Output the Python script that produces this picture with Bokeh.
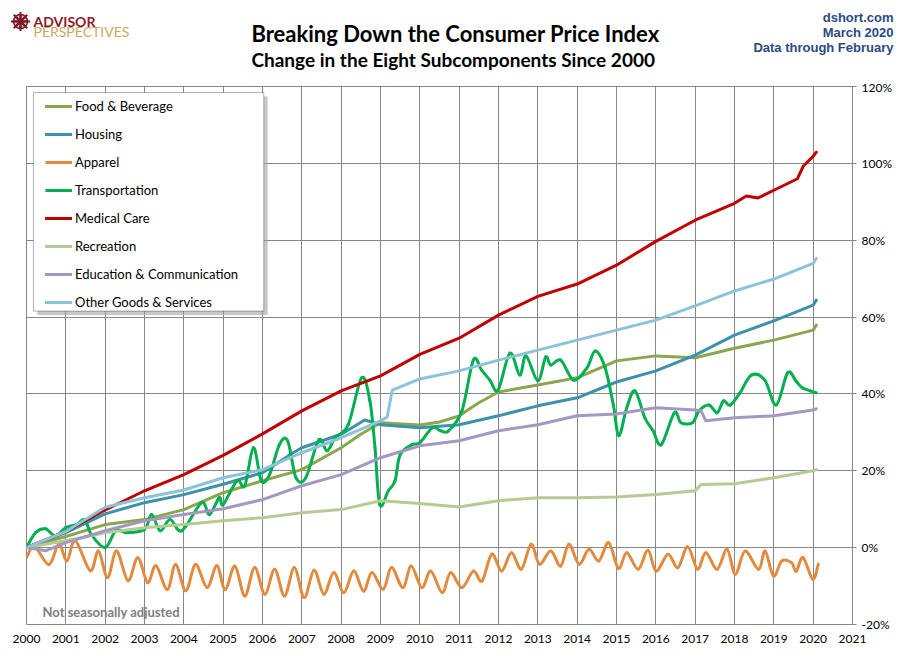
from bokeh.plotting import figure
from bokeh.models import (FixedTicker, PrintfTickFormatter, Legend, LegendItem, Label,
                          BoxAnnotation, Range1d, ColumnDataSource)
from bokeh.embed import file_html
from bokeh.resources import INLINE

# ---------------- data (percent change since Jan 2000) ----------------
tick_years = list(range(2000, 2022))
tick_pcts = [-20, 0, 20, 40, 60, 80, 100, 120]

food_x = [2000, 2001, 2002, 2003, 2004, 2005, 2006, 2007, 2008, 2008.5, 2009, 2010, 2010.5,
          2011, 2011.5, 2012, 2013, 2014, 2015, 2016, 2017, 2018, 2019, 2020, 2020.08]
food_y = [0, 2.9, 6.0, 7.3, 9.9, 14.3, 17.4, 20.3, 26.0, 29.5, 32.5, 31.9, 32.7,
          34.3, 37.7, 40.5, 42.3, 44.2, 48.6, 49.9, 49.4, 51.9, 54.0, 56.6, 57.9]

housing_x = [2000, 2001, 2002, 2003, 2004, 2005, 2006, 2006.75, 2007, 2008, 2008.6, 2009,
             2010, 2011, 2012, 2013, 2014, 2015, 2016, 2017, 2018, 2019, 2020, 2020.08]
housing_y = [0, 3.9, 8.8, 11.7, 13.8, 16.5, 19.5, 24.5, 26.0, 29.5, 33.2, 32.0,
             31.2, 32.0, 34.3, 36.9, 39.0, 43.1, 46.0, 50.1, 55.3, 59.0, 63.1, 64.4]

apparel_x = [2000.0, 2000.2, 2000.57, 2000.82, 2001.03, 2001.24, 2001.62, 2001.83,
             2002.06, 2002.29, 2002.58, 2002.83, 2003.08, 2003.29, 2003.58, 2003.79,
             2004.05, 2004.3, 2004.59, 2004.84, 2005.05, 2005.3, 2005.55, 2005.8,
             2006.06, 2006.31, 2006.56, 2006.81, 2007.06, 2007.31, 2007.56, 2007.81,
             2008.07, 2008.32, 2008.57, 2008.78, 2009.07, 2009.28, 2009.57, 2009.78,
             2010.05, 2010.28, 2010.57, 2010.78, 2011.07, 2011.36, 2011.58, 2011.83,
             2012.08, 2012.33, 2012.58, 2012.83, 2013.04, 2013.33, 2013.58, 2013.79,
             2014.05, 2014.3, 2014.55, 2014.8, 2015.05, 2015.26, 2015.55, 2015.8,
             2016.01, 2016.31, 2016.56, 2016.81, 2017.06, 2017.27, 2017.56, 2017.81,
             2018.02, 2018.27, 2018.61, 2018.78, 2018.99, 2019.2, 2019.45, 2019.57,
             2019.74, 2019.99, 2020.13]
apparel_y = [-2.6, 0.3, -4.4, 0.9, -3.4, 1.8, -6.0, -0.9,
             -7.8, -0.9, -8.6, -2.6, -9.1, -4.7, -10.9, -4.4,
             -11.2, -4.4, -10.4, -4.7, -10.9, -4.8, -12.6, -5.2,
             -12.1, -5.6, -12.6, -5.2, -13.0, -5.9, -12.1, -6.5,
             -11.7, -6.1, -11.3, -6.5, -10.8, -5.2, -10.4, -4.8,
             -10.4, -6.1, -11.7, -6.5, -10.4, -6.1, -8.7, -1.7,
             -6.1, -1.3, -5.6, 0.9, -4.3, -0.9, -4.8, 0.9,
             -4.3, -0.4, -3.5, 1.3, -5.4, -1.3, -5.6, -0.7,
             -6.1, -1.7, -5.2, 0.2, -5.6, -1.3, -5.6, -0.4,
             -6.9, -0.9, -5.6, -0.9, -7.4, -3.5, -3.9, -6.1,
             -2.6, -8.2, -4.3]

trans_x = [2000.0, 2000.23, 2000.48, 2000.73, 2001.0, 2001.27, 2001.48, 2001.65, 2002.0, 2002.27,
           2002.55, 2003.0, 2003.18, 2003.4, 2003.65, 2003.95, 2004.45, 2004.65, 2004.9, 2005.0,
           2005.35, 2005.55, 2005.77, 2005.97, 2006.18, 2006.43, 2006.64, 2006.85, 2007.1, 2007.43,
           2007.64, 2007.85, 2008.18, 2008.52, 2008.73, 2008.86, 2008.98, 2009.2, 2009.37, 2009.5,
           2009.8, 2010.0, 2010.32, 2010.53, 2010.73, 2011.07, 2011.36, 2011.57, 2011.78, 2011.99,
           2012.29, 2012.54, 2012.7, 2013.0, 2013.2, 2013.33, 2013.58, 2013.91, 2014.25, 2014.46,
           2014.71, 2014.92, 2015.06, 2015.26, 2015.47, 2015.72, 2015.93, 2016.14, 2016.47, 2016.64,
           2016.93, 2017.1, 2017.35, 2017.56, 2017.72, 2017.89, 2018.14, 2018.43, 2018.77, 2019.06,
           2019.35, 2019.56, 2019.72, 2019.93, 2020.08]
trans_y = [0.0, 3.9, 4.9, 3.1, 5.2, 6.0, 7.3, 3.4, 0.0, 4.4,
           3.9, 4.7, 8.6, 4.4, 7.3, 4.4, 11.7, 8.6, 13.0, 11.2,
           17.4, 16.1, 26.0, 17.4, 19.0, 26.8, 27.8, 18.2, 18.2, 28.0,
           25.2, 28.6, 32.0, 44.2, 38.2, 26.0, 11.2, 14.8, 17.4, 24.2,
           26.8, 27.3, 31.2, 30.4, 30.4, 35.6, 48.8, 46.2, 43.6, 41.0,
           50.6, 44.9, 49.9, 43.4, 49.6, 47.5, 48.8, 43.6, 46.8, 51.2,
           46.8, 37.1, 29.1, 36.4, 40.8, 33.8, 30.4, 26.8, 35.1, 32.5,
           32.5, 35.6, 37.1, 35.1, 38.2, 37.1, 40.3, 44.9, 43.6, 37.1,
           45.5, 43.4, 41.6, 40.8, 40.3]

med_x = [2000, 2001, 2002, 2003, 2004, 2005, 2006, 2007, 2008, 2009, 2010, 2011, 2012, 2013,
         2014, 2015, 2016, 2017, 2018, 2018.3, 2018.6, 2019, 2019.6, 2019.75, 2020, 2020.08]
med_y = [0, 4.2, 9.8, 14.8, 19.0, 24.0, 29.6, 35.6, 40.8, 44.7, 50.3, 54.5, 60.5, 65.4,
         68.6, 73.5, 79.7, 85.2, 89.6, 91.5, 91.0, 93.0, 96.0, 99.3, 101.8, 102.9]

rec_x = [2000, 2001, 2002, 2003, 2004, 2005, 2006, 2007, 2008, 2009, 2010, 2011, 2012, 2013,
         2014, 2015, 2016, 2017, 2017.15, 2018, 2019, 2020, 2020.08]
rec_y = [0, 1.8, 3.9, 5.2, 6.0, 7.0, 7.8, 9.1, 9.9, 12.2, 11.5, 10.6, 12.2, 13.0,
         13.0, 13.2, 13.8, 14.8, 16.4, 16.6, 18.2, 20.0, 20.3]

edu_x = [2000, 2000.5, 2001, 2002, 2003, 2004, 2005, 2006, 2007, 2008, 2009, 2010, 2011, 2012,
         2013, 2014, 2015, 2016, 2017, 2017.15, 2017.27, 2018, 2019, 2020, 2020.08]
edu_y = [0, -0.8, 1.3, 4.4, 7.0, 8.6, 10.1, 12.5, 16.1, 19.0, 23.4, 26.5, 27.8, 30.4,
         32.0, 34.3, 34.8, 36.4, 35.8, 35.6, 33.0, 33.8, 34.3, 35.8, 36.1]

other_x = [2000, 2001, 2002, 2003, 2004, 2005, 2006, 2007, 2008, 2009, 2009.17, 2009.3,
           2010, 2011, 2012, 2013, 2014, 2015, 2016, 2017, 2018, 2019, 2020, 2020.08]
other_y = [0, 4.2, 10.5, 13.0, 15.0, 18.2, 20.3, 24.7, 28.6, 33.0, 34.0, 41.0,
           43.9, 46.0, 48.8, 51.4, 54.0, 56.6, 59.2, 62.9, 66.8, 69.9, 74.0, 75.3]

series_names = ["Food & Beverage", "Housing", "Apparel", "Transportation", "Medical Care",
                "Recreation", "Education & Communication", "Other Goods & Services"]
series_colors = ["#8AA64E", "#3C91AB", "#E38A3F", "#00B050", "#C00000",
                 "#B4CC92", "#A498C2", "#8DC3D8"]

# ---------------- layout constants ----------------
W, H = 894, 645
HH = 79                      # header strip height (titles, logo, source)
MH = H - HH                  # main chart height
BL, BT, BR, BB = 26, 7, 36, 20
FW, FH = W - BL - BR, MH - BT - BB
GRID = "#878787"
FONT = "Lato"
LOGO_RED = "#7B1A26"

# ---------------- header figure (texts above the plot) ----------------
hdr = figure(width=W, height=HH, output_backend="svg", toolbar_location=None, title=None,
             x_range=Range1d(0, W), y_range=Range1d(0, HH),
             x_axis_location=None, y_axis_location=None,
             min_border_left=0, min_border_right=0, min_border_top=0, min_border_bottom=0)
hdr.grid.visible = False
hdr.outline_line_color = None
hdr.background_fill_color = "white"
hdr.border_fill_color = "white"


def hlabel(text, x, base_y, size, color="black", bold=False, align="left", font=FONT):
    # base_y: pixel row of the text baseline, from the top of the page
    hdr.add_layout(Label(x=x, y=HH - base_y, x_units="screen", y_units="screen", text=text,
                         text_font=font, text_font_size=size, text_color=color,
                         text_font_style="bold" if bold else "normal",
                         text_align=align, text_baseline="alphabetic"))


hlabel("Breaking Down the Consumer Price Index", 455, 32.5, "22px", bold=True, align="center")
hlabel("Change in the Eight Subcomponents  Since 2000", 455, 59, "19px", bold=True,
       align="center")
hlabel("dshort.com", 893, 17, "13px", color="#2B4A85", bold=True, align="right",
       font="Liberation Sans")
hlabel("March 2020", 893, 32, "13px", color="#2B4A85", bold=True, align="right",
       font="Liberation Sans")
hlabel("Data through February", 893, 47, "13px", color="#2B4A85", bold=True, align="right",
       font="Liberation Sans")
# compass-rose logo mark
hdr.scatter(x=[20], y=[HH - 21], marker="circle", size=14, fill_color=LOGO_RED,
            fill_alpha=0.25, line_color=LOGO_RED, line_width=1.5)
hdr.scatter(x=[20, 20], y=[HH - 21, HH - 21], marker="asterisk", size=[19, 13],
            line_color=LOGO_RED, line_width=2)
hlabel("ADVISOR", 33, 20.5, "14px", color="#8B1A2A", bold=True)
hlabel("PERSPECTIVES", 33, 31, "14px", color="#C8A966")

# ---------------- main chart ----------------
p = figure(width=W, height=MH, output_backend="svg", toolbar_location=None, title=None,
           x_range=Range1d(2000, 2021), y_range=Range1d(-20, 120),
           y_axis_location="right",
           min_border_left=BL, min_border_top=BT, min_border_right=BR, min_border_bottom=BB)
p.background_fill_color = "white"
p.border_fill_color = "white"
p.outline_line_color = GRID
p.outline_line_width = 1

p.xgrid.ticker = FixedTicker(ticks=tick_years)
p.ygrid.ticker = FixedTicker(ticks=tick_pcts)
for g in (p.xgrid, p.ygrid):
    g.grid_line_color = GRID
    g.grid_line_width = 1

xa = p.xaxis[0]
xa.ticker = FixedTicker(ticks=tick_years)
xa.axis_line_color = None
xa.major_tick_line_color = None
xa.minor_tick_line_color = None
xa.major_label_standoff = 4
xa.major_label_text_font = FONT
xa.major_label_text_font_size = "12px"
xa.major_label_text_color = "black"

ya = p.yaxis[0]
ya.ticker = FixedTicker(ticks=tick_pcts)
ya.formatter = PrintfTickFormatter(format="%d%%")
ya.axis_line_color = None
ya.major_tick_line_color = GRID
ya.major_tick_out = 4
ya.major_tick_in = 0
ya.minor_tick_line_color = None
ya.major_label_standoff = 5
ya.major_label_text_font = FONT
ya.major_label_text_font_size = "12px"
ya.major_label_text_color = "black"


def bezier_source(xs, ys):
    """Smooth curve segments (like Excel's smoothed line) through the read points."""
    n = len(xs)
    d = dict(x0=[], y0=[], x1=[], y1=[], cx0=[], cy0=[], cx1=[], cy1=[])
    for i in range(n - 1):
        a = max(i - 1, 0)
        b = min(i + 2, n - 1)
        c0x = xs[i] + (xs[i + 1] - xs[a]) / 6.0
        c0y = ys[i] + (ys[i + 1] - ys[a]) / 6.0
        c1x = xs[i + 1] - (xs[b] - xs[i]) / 6.0
        c1y = ys[i + 1] - (ys[b] - ys[i]) / 6.0
        c0x = min(max(c0x, xs[i]), xs[i + 1])
        c1x = min(max(c1x, xs[i]), xs[i + 1])
        d["x0"].append(xs[i]); d["y0"].append(ys[i])
        d["x1"].append(xs[i + 1]); d["y1"].append(ys[i + 1])
        d["cx0"].append(c0x); d["cy0"].append(c0y)
        d["cx1"].append(c1x); d["cy1"].append(c1y)
    return ColumnDataSource(d)


data = [(food_x, food_y, False), (housing_x, housing_y, False), (apparel_x, apparel_y, True),
        (trans_x, trans_y, True), (med_x, med_y, False), (rec_x, rec_y, False),
        (edu_x, edu_y, False), (other_x, other_y, False)]

NAN = float("nan")
items = []
for (xs, ys, smooth), name, col in zip(data, series_names, series_colors):
    if smooth:
        p.bezier(x0="x0", y0="y0", x1="x1", y1="y1", cx0="cx0", cy0="cy0", cx1="cx1", cy1="cy1",
                 source=bezier_source(xs, ys), line_color=col, line_width=3, line_cap="round")
        # legend swatch only (no visible data)
        r = p.line(x=[NAN, NAN], y=[NAN, NAN], line_color=col, line_width=3)
    else:
        r = p.line(xs, ys, line_color=col, line_width=3, line_join="round", line_cap="round")
    items.append(LegendItem(label=name, renderers=[r]))


# legend frame + shadow (pixel offsets from the plot frame's top-left)
def px_x(px):
    return 2000 + 21.0 * px / FW


def px_y(py):
    return 120 - 140.0 * py / FH


LG_L, LG_T, LG_R, LG_B = 7, 6, 239, 225
p.add_layout(BoxAnnotation(left=px_x(LG_L + 4), right=px_x(LG_R + 4), top=px_y(LG_T + 4),
                           bottom=px_y(LG_B + 4), fill_color="#9a9a9a", fill_alpha=0.55,
                           line_color=None, level="annotation"))
p.add_layout(BoxAnnotation(left=px_x(LG_L), right=px_x(LG_R), top=px_y(LG_T), bottom=px_y(LG_B),
                           fill_color="white", fill_alpha=1.0, line_color="black", line_width=1,
                           level="annotation"))

legend = Legend(items=items, location=(LG_L + 12, FH - LG_B), margin=0, padding=4,
                border_line_color=None, background_fill_alpha=0.0,
                glyph_width=27, glyph_height=16, label_height=16, spacing=12,
                label_standoff=3, label_text_font=FONT, label_text_font_size="13px",
                label_text_color="black")
p.add_layout(legend)

p.add_layout(Label(x=42 - BL, y=13, x_units="screen", y_units="screen",
                   text="Not seasonally adjusted", text_font=FONT, text_font_size="13px",
                   text_color="#808080", text_font_style="bold", text_baseline="alphabetic"))

open("out.html", "w").write(file_html([hdr, p], INLINE))
